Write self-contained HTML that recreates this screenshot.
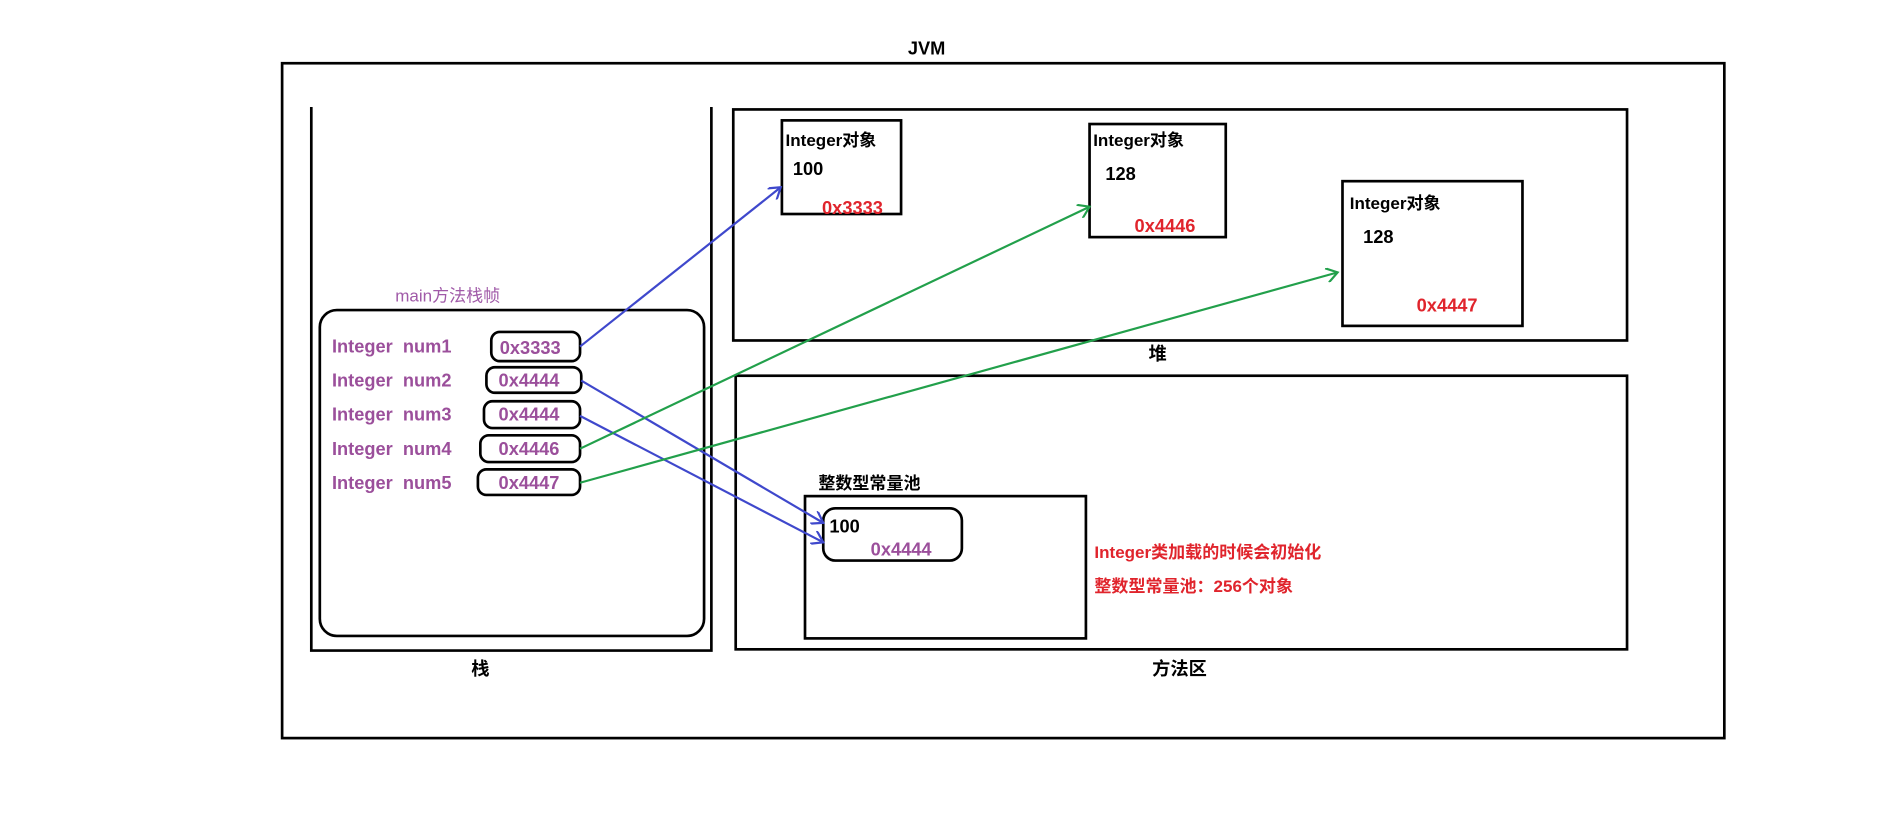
<!DOCTYPE html>
<html><head><meta charset="utf-8"><style>
html,body{margin:0;padding:0;background:#fff;width:1897px;height:840px;overflow:hidden}
svg text{font-family:"Liberation Sans","Noto Sans CJK SC",sans-serif;font-weight:bold}
</style></head><body>
<svg width="1897" height="840" viewBox="0 0 1560 690.8" preserveAspectRatio="none" xmlns="http://www.w3.org/2000/svg">
<defs>
<marker id="ab" markerWidth="12" markerHeight="12" refX="10" refY="6" orient="auto" markerUnits="userSpaceOnUse"><path d="M1,0 L10,6 L1,12" fill="none" stroke="#3f48cc" stroke-width="1.8"/></marker>
<marker id="ag" markerWidth="12" markerHeight="12" refX="10" refY="6" orient="auto" markerUnits="userSpaceOnUse"><path d="M1,0 L10,6 L1,12" fill="none" stroke="#22a04b" stroke-width="1.8"/></marker>
</defs>
<g fill="none" stroke="#000" stroke-width="2.2">
<rect x="232" y="52" width="1186" height="555"/>
<path d="M256,88 V535 H585 V88"/>
<rect x="263" y="255" width="316" height="268" rx="14"/>
<rect x="404" y="273" width="73" height="24" rx="7"/>
<rect x="400" y="302" width="78" height="21" rx="7"/>
<rect x="398" y="330" width="79" height="22" rx="7"/>
<rect x="395" y="358" width="82" height="22" rx="7"/>
<rect x="393" y="386" width="84" height="21" rx="7"/>
<rect x="603" y="90" width="735" height="190"/>
<rect x="643" y="99" width="98" height="77"/>
<rect x="896" y="102" width="112" height="93"/>
<rect x="1104" y="149" width="148" height="119"/>
<rect x="605" y="309" width="733" height="225"/>
<rect x="662" y="408" width="231" height="117"/>
<rect x="677" y="418" width="114" height="43" rx="10"/>
</g>
<g font-size="15" fill="#000">
<text x="762" y="45" text-anchor="middle">JVM</text>
<text x="395" y="555" text-anchor="middle">栈</text>
<text x="952" y="296" text-anchor="middle">堆</text>
<text x="970" y="555" text-anchor="middle">方法区</text>
<text x="646" y="120" font-size="14">Integer对象</text>
<text x="652" y="144">100</text>
<text x="899" y="120" font-size="14">Integer对象</text>
<text x="909" y="148">128</text>
<text x="1110" y="172" font-size="14">Integer对象</text>
<text x="1121" y="200">128</text>
<text x="673" y="402" font-size="14">整数型常量池</text>
<text x="682" y="438">100</text>
</g>
<g font-size="15" fill="#e0242c">
<text x="676" y="176">0x3333</text>
<text x="933" y="191">0x4446</text>
<text x="1165" y="256">0x4447</text>
<text x="900" y="459" font-size="14">Integer类加载的时候会初始化</text>
<text x="900" y="487" font-size="14">整数型常量池：256个对象</text>
</g>
<text x="325" y="248" font-size="14" fill="#a05aa8" style="font-weight:normal">main方法栈帧</text>
<g font-size="15" fill="#9b4f9b">
<text x="273" y="290">Integer&#160; num1</text>
<text x="273" y="318">Integer&#160; num2</text>
<text x="273" y="346">Integer&#160; num3</text>
<text x="273" y="374">Integer&#160; num4</text>
<text x="273" y="402">Integer&#160; num5</text>
<text x="411" y="291">0x3333</text>
<text x="410" y="318">0x4444</text>
<text x="410" y="346">0x4444</text>
<text x="410" y="374">0x4446</text>
<text x="410" y="402">0x4447</text>
<text x="716" y="457">0x4444</text>
</g>
<g fill="none" stroke-width="1.8">
<line x1="477" y1="285" x2="642" y2="154" stroke="#3f48cc" marker-end="url(#ab)"/>
<line x1="478" y1="313" x2="677" y2="430" stroke="#3f48cc" marker-end="url(#ab)"/>
<line x1="477" y1="342" x2="677" y2="446" stroke="#3f48cc" marker-end="url(#ab)"/>
<line x1="477" y1="369" x2="896" y2="170" stroke="#22a04b" marker-end="url(#ag)"/>
<line x1="477" y1="397" x2="1100" y2="224" stroke="#22a04b" marker-end="url(#ag)"/>
</g>
</svg>
</body></html>
